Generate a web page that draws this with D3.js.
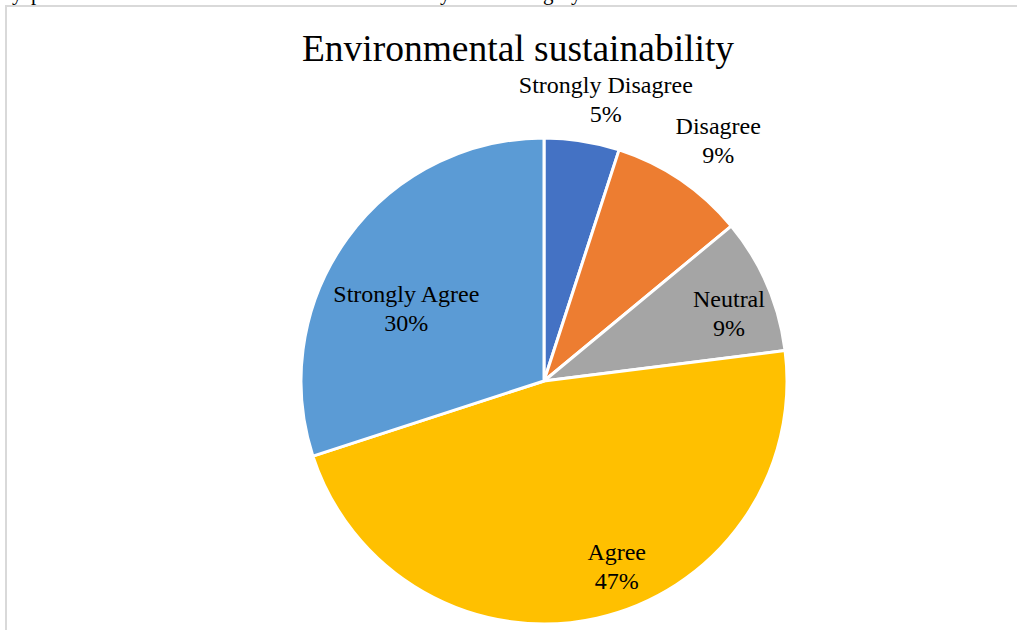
<!DOCTYPE html>
<html>
<head>
<meta charset="utf-8">
<script src="https://cdn.jsdelivr.net/npm/d3@7"></script>
<style>
  html, body { margin: 0; padding: 0; background: #ffffff; overflow: hidden; }
  svg { display: block; }
</style>
</head>
<body>
<svg id="chart" width="1017" height="630"></svg>
<script>
// Survey responses on environmental sustainability (percent of respondents)
const categories = ["Strongly Disagree", "Disagree", "Neutral", "Agree", "Strongly Agree"];
const shares = [5, 9, 9, 47, 30];
const sliceColors = ["#4472C4", "#ED7D31", "#A5A5A5", "#FFC000", "#5B9BD5"];
const chartTitle = "Environmental sustainability";

const W = 1017, H = 630;
const cx = 544, cy = 381, R = 243;
const serif = "'Liberation Serif', 'Times New Roman', serif";

// Data-label placement: radius as a fraction of R and an angular nudge (degrees)
const labelPlacement = {
  "Strongly Disagree": { r: 1.185, shift: 3.4 },
  "Disagree":          { r: 1.22,  shift: 1.8 },
  "Neutral":           { r: 0.81,  shift: 3.4 },
  "Agree":             { r: 0.82,  shift: -8.8 },
  "Strongly Agree":    { r: 0.64,  shift: -8.3 }
};

const svg = d3.select("#chart");

svg.append("rect").attr("width", W).attr("height", H).attr("fill", "#ffffff");

// Descenders of the preceding text line, cut off by the top edge
const clipped = svg.append("text")
  .attr("y", 0)
  .attr("font-family", serif)
  .attr("font-size", 21)
  .attr("fill", "#000");
[["y", 12], ["p", 31], ["y", 440], ["g", 543], ["y", 571]].forEach(([ch, x]) => {
  clipped.append("tspan").attr("x", x).text(ch);
});

// Chart frame
svg.append("rect")
  .attr("x", 6).attr("y", 6)
  .attr("width", W + 20).attr("height", H + 20)
  .attr("fill", "#ffffff")
  .attr("stroke", "#d9d9d9")
  .attr("stroke-width", 2);

// Title
svg.append("text")
  .attr("x", 518).attr("y", 61)
  .attr("text-anchor", "middle")
  .attr("font-family", serif)
  .attr("font-size", 37.5)
  .attr("fill", "#000")
  .text(chartTitle);

const color = d3.scaleOrdinal().domain(categories).range(sliceColors);

const pie = d3.pie().sort(null).value(d => d.value);
const arcs = pie(categories.map((c, i) => ({ category: c, value: shares[i] })));

const arc = d3.arc().innerRadius(0).outerRadius(R);

const g = svg.append("g").attr("transform", `translate(${cx},${cy})`);

g.selectAll("path.slice")
  .data(arcs)
  .join("path")
  .attr("class", "slice")
  .attr("d", arc)
  .attr("fill", d => color(d.data.category))
  .attr("stroke", "#ffffff")
  .attr("stroke-width", 3)
  .attr("stroke-linejoin", "round");

// Data labels: category name and percentage
const labels = g.selectAll("g.label")
  .data(arcs)
  .join("g")
  .attr("class", "label")
  .attr("transform", d => {
    const p = labelPlacement[d.data.category];
    const a = (d.startAngle + d.endAngle) / 2 + p.shift * Math.PI / 180;
    const r = p.r * R;
    return `translate(${r * Math.sin(a)},${-r * Math.cos(a)})`;
  });

labels.append("text")
  .attr("text-anchor", "middle")
  .attr("font-family", serif)
  .attr("font-size", 24)
  .attr("fill", "#000")
  .call(t => {
    t.append("tspan").attr("x", 0).attr("y", -7).text(d => d.data.category);
    t.append("tspan").attr("x", 0).attr("y", 22).text(d => d.data.value + "%");
  });
</script>
</body>
</html>
